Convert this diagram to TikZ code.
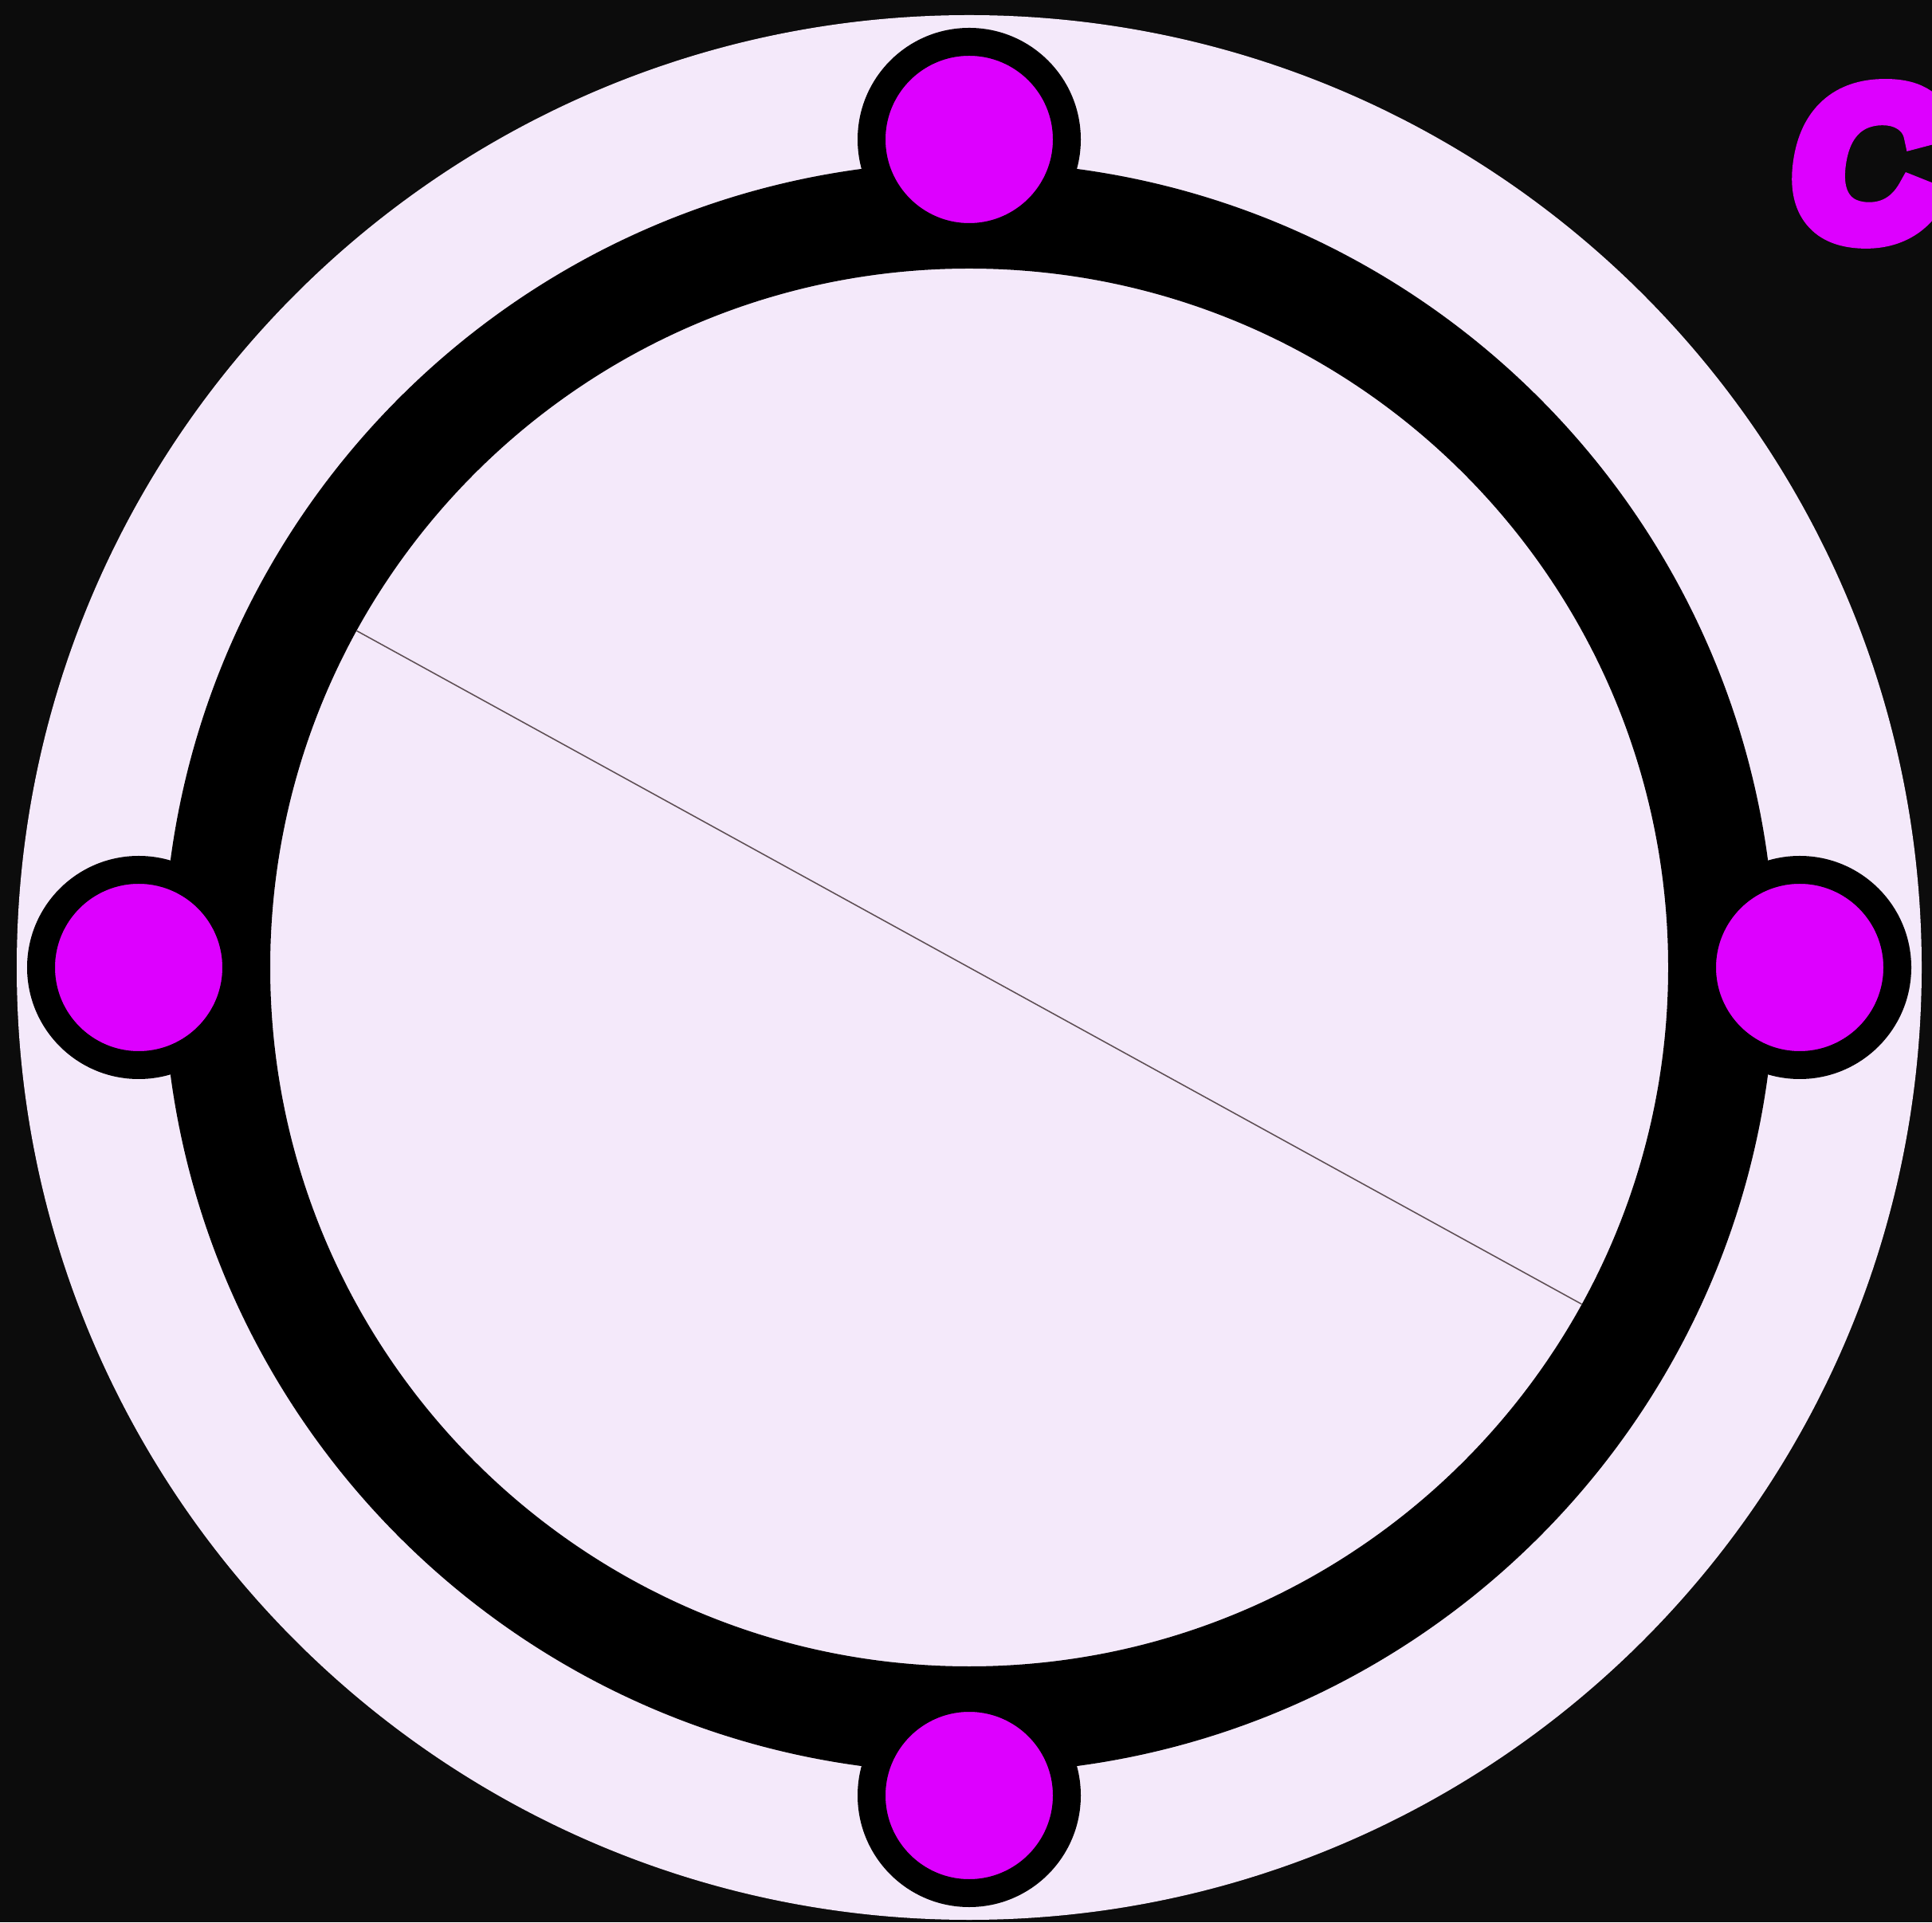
\documentclass[tikz,border=0pt]{standalone}
\usepackage{xcolor}
\usepackage{fontspec}
\usepackage{tikz}
\usetikzlibrary{positioning}

\newfontfamily\capfont{Liberation Sans}[UprightFont=* Bold, FakeSlant=0.14, FakeBold=11]

\definecolor{nightbg}{RGB}{12,12,12}
\definecolor{lavender}{RGB}{244,233,250}
\definecolor{vividmagenta}{RGB}{221,0,255}
\definecolor{chordgray}{RGB}{95,80,85}

\begin{document}
\begin{tikzpicture}[
    dialface/.style={
        fill=lavender
    },
    ringband/.style={
        draw=black,
        line width=1.34cm
    },
    portdot/.style={
        circle,
        draw=black,
        fill=vividmagenta,
        line width=0.35cm,
        minimum size=2.45cm,
        inner sep=0pt
    },
    chordline/.style={
        draw=chordgray,
        line width=0.45pt
    }
]

    % Background and page size
    \fill[nightbg] (0,0) rectangle (24.24,24.12);
    \useasboundingbox (0,0) rectangle (24.24,24.12);

    % Centre of the dial
    \coordinate (hub) at (12.16,11.98);

    % Light face and black ring
    \fill[dialface] (hub) circle (11.95);
    \draw[ringband] (hub) circle (9.44);

    % Four magenta ports on the ring
    \node[portdot] (porttop) at ([yshift=10.39cm]hub) {};
    \node[portdot] (portbottom) at ([yshift=-10.39cm]hub) {};
    \node[portdot] (portleft) at ([xshift=-10.42cm]hub) {};
    \node[portdot] (portright) at ([xshift=10.42cm]hub) {};

    % Thin diameter across the inner face
    \coordinate (chordwest) at ([shift={(151.2:8.77)}]hub);
    \coordinate (chordeast) at ([shift={(-28.8:8.77)}]hub);
    \draw[chordline] (chordwest) -- (chordeast);

    % Corner letter
    \node[anchor=base west, inner sep=0pt, text=vividmagenta, font=\capfont\fontsize{74}{74}\selectfont] (cornerletter) at (22.40,21.17) {C};

\end{tikzpicture}
\end{document}
